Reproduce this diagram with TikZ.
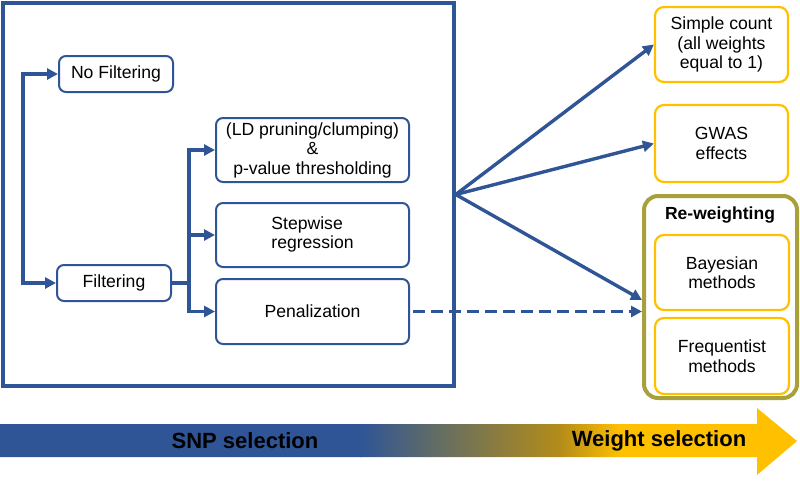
\documentclass[tikz,border=0pt]{standalone}
\usepackage{fontspec}
\setmainfont{Liberation Sans}
\usetikzlibrary{arrows.meta}
\definecolor{cblue}{RGB}{47,85,151}
\definecolor{corange}{RGB}{255,192,0}
\definecolor{colive}{RGB}{168,160,60}
\definecolor{sgray}{RGB}{95,107,105}
\definecolor{sbrown}{RGB}{180,140,25}
\tikzset{
  bluebox/.style={draw=cblue, line width=2pt, rounded corners=7pt, align=center, inner sep=0pt, font=\fontsize{17.6}{19.5}\selectfont},
  orbox/.style={draw=corange, line width=2.2pt, rounded corners=9pt, align=center, inner sep=0pt, minimum width=133pt, font=\fontsize{17.6}{19.5}\selectfont},
  conn/.style={draw=cblue, line width=3.4pt, -{Triangle[length=11pt,width=11pt]}},
  bigtxt/.style={font=\fontsize{22}{24}\selectfont\bfseries, inner sep=0pt}
}
\begin{document}
\begin{tikzpicture}[x=1pt,y=-1pt]
\useasboundingbox (0,0) rectangle (800,480);
% big box
\node[draw=cblue, line width=3.5pt, minimum width=451pt, minimum height=383pt, inner sep=0pt] (big) at (228.5,194.5) {};
% left boxes
\node[bluebox, minimum width=114pt, minimum height=36pt] (nf) at (116,74) {No Filtering};
\node[bluebox, minimum width=114pt, minimum height=36pt] (filt) at (114,283) {Filtering};
\node[bluebox, minimum width=193pt, minimum height=64pt] (ld) at (312.5,150) {(LD pruning/clumping)\\\&\\p-value thresholding};
\node[bluebox, minimum width=193pt, minimum height=64pt] (stepw) at (312.5,235) {\begin{tabular}{@{}l@{}}Stepwise\\regression\end{tabular}};
\node[bluebox, minimum width=193pt, minimum height=65pt] (pen) at (312.5,311.5) {Penalization};
% right boxes
\node[orbox, minimum height=75pt] (simple) at (721.5,44.5) {Simple count\\(all weights\\equal to 1)};
\node[orbox, minimum height=77pt] (gwas) at (721.5,143.5) {GWAS\\effects};
\node[draw=colive, line width=4pt, rounded corners=14pt, minimum width=153pt, minimum height=202pt, inner sep=0pt] (rew) at (720.5,297) {};
\node[font=\fontsize{17.5}{19}\selectfont\bfseries, inner sep=0pt] (rewl) at (720,215) {Re-weighting};
\node[orbox, minimum width=134pt, minimum height=75pt] (bay) at (722,272.5) {Bayesian\\methods};
\node[orbox, minimum width=134pt, minimum height=76pt] (freq) at (722,356) {Frequentist\\methods};
% left bracket
\coordinate (lb) at (23,74);
\draw[conn, {Triangle[length=11pt,width=11pt]}-{Triangle[length=11pt,width=11pt]}] (nf.west) -- (lb) |- (filt.west);
% filtering bracket
\coordinate (fb) at (189,283);
\draw[draw=cblue, line width=3.4pt] (filt.east) -- (fb);
\draw[conn] (fb) |- (ld.west);
\draw[conn] (fb) |- (pen.west);
\draw[conn] (fb |- stepw.west) -- (stepw.west);
% fan
\draw[conn] (big.east) -- (simple.west);
\draw[conn] (big.east) -- (gwas.west);
\draw[conn] (big.east) -- ([yshift=-3pt]rew.west);
\draw[conn, dash pattern=on 12pt off 6pt] ([xshift=3pt]pen.east) -- (rew.west |- pen.east);
% bottom arrow
\begin{scope}
\clip (0,424) -- (757,424) -- (757,408) -- (797,441) -- (757,475) -- (757,457) -- (0,457) -- cycle;
\fill[cblue] (0,400) rectangle (361,480);
\shade[left color=cblue, right color=sgray] (360,400) rectangle (431,480);
\shade[left color=sgray, right color=sbrown] (430,400) rectangle (561,480);
\shade[left color=sbrown, right color=corange] (560,400) rectangle (621,480);
\fill[corange] (620,400) rectangle (800,480);
\end{scope}
\node[bigtxt] (snp) at (245,441) {SNP selection};
\node[bigtxt] (ws) at (659,441) {Weight selection};
\end{tikzpicture}
\end{document}
